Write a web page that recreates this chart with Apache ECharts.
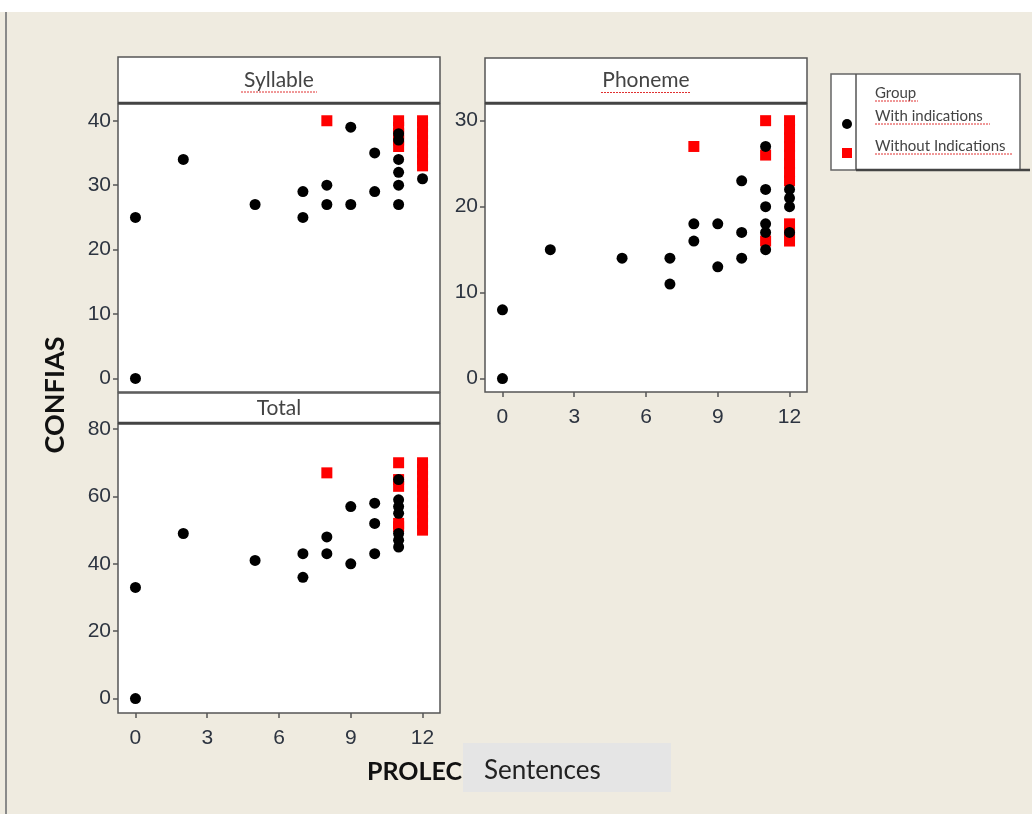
<!DOCTYPE html>
<html>
<head>
<meta charset="utf-8">
<script src="https://cdn.jsdelivr.net/npm/echarts@6/dist/echarts.min.js"></script>
<style>
html,body{margin:0;padding:0;background:#fff;}
#chart{width:1032px;height:814px;}
</style>
</head>
<body>
<div id="chart"></div>
<script>
// ---- data ----
const xTicks = [0, 3, 6, 9, 12];
const syllableTicks = [0, 10, 20, 30, 40];
const phonemeTicks = [0, 10, 20, 30];
const totalTicks = [0, 20, 40, 60, 80];

const panelTitles = ['Syllable', 'Phoneme', 'Total'];
const groupNames = ['With indications', 'Without Indications'];
const legendTitle = 'Group';
const yTitle = 'CONFIAS';
const xTitleA = 'PROLEC';
const xTitleB = 'Sentences';

const syllableWith = [[0,25],[0,0],[2,34],[5,27],[7,29],[7,25],[8,30],[8,27],[9,39],[9,27],[10,35],[10,29],
  [11,38],[11,37],[11,34],[11,32],[11,30],[11,27],[12,31]];
const syllableWithout = [[8,40],[11,40],[11,39],[11,38],[11,37],[11,36],
  [12,40],[12,39],[12,38],[12,37],[12,36],[12,35],[12,34],[12,33]];

const phonemeWith = [[0,8],[0,0],[2,15],[5,14],[7,14],[7,11],[8,18],[8,16],[9,18],[9,13],[10,23],[10,17],[10,14],
  [11,27],[11,22],[11,20],[11,18],[11,17],[11,15],[12,22],[12,21],[12,20],[12,17]];
const phonemeWithout = [[8,27],[11,30],[11,26],[11,16],
  [12,30],[12,29],[12,28],[12,27],[12,26],[12,25],[12,24],[12,23],[12,18],[12,17],[12,16]];

const totalWith = [[0,33],[0,0],[2,49],[5,41],[7,43],[7,36],[8,48],[8,43],[9,57],[9,40],[10,58],[10,52],[10,43],
  [11,65],[11,59],[11,57],[11,55],[11,49],[11,47],[11,45]];
const totalWithout = [[8,67],[11,70],[11,65],[11,63],[11,52],[11,51],
  [12,70],[12,68],[12,66],[12,64],[12,62],[12,60],[12,58],[12,56],[12,54],[12,52],[12,50]];

// ---- layout / style ----
const FONT = 'Lato';
const TICKFONT = '"Liberation Sans Narrow", "Liberation Sans", Lato';
const LABEL = '#2d3440';
const grids = [
  {left:118, top:104, width:322, height:288},
  {left:485, top:104, width:322, height:288},
  {left:118, top:424, width:322, height:289}
];
const yRanges = [[-2.1, 42.6], [-1.56, 31.94], [-4.27, 81.5]];
const yTickSets = [syllableTicks, phonemeTicks, totalTicks];
const showX = [false, true, true];

const chart = echarts.init(document.getElementById('chart'));

const xAxes = grids.map((g, i) => ({
  type: 'value', gridIndex: i, min: -0.73, max: 12.73,
  axisLine: {show: false, onZero: false}, splitLine: {show: false},
  axisTick: {show: showX[i], length: 5, lineStyle: {color: '#555', width: 1.5}, customValues: xTicks},
  axisLabel: {show: showX[i], customValues: xTicks, fontFamily: TICKFONT, fontSize: 21, color: LABEL, margin: 15}
}));
const yAxes = grids.map((g, i) => ({
  type: 'value', gridIndex: i, min: yRanges[i][0], max: yRanges[i][1],
  axisLine: {show: false, onZero: false}, splitLine: {show: false},
  axisTick: {show: true, length: 5, lineStyle: {color: '#555', width: 1.5}, customValues: yTickSets[i]},
  axisLabel: {customValues: yTickSets[i], fontFamily: TICKFONT, fontSize: 21, color: LABEL, margin: 7}
}));

const withSets = [syllableWith, phonemeWith, totalWith];
const withoutSets = [syllableWithout, phonemeWithout, totalWithout];
const series = [];
grids.forEach((g, i) => {
  series.push({
    name: groupNames[1], type: 'scatter', xAxisIndex: i, yAxisIndex: i,
    symbol: 'rect', symbolSize: 11, itemStyle: {color: '#ff0000', opacity: 1},
    data: withoutSets[i], z: 2, silent: true
  });
  series.push({
    name: groupNames[0], type: 'scatter', xAxisIndex: i, yAxisIndex: i,
    symbol: 'circle', symbolSize: 11, itemStyle: {color: '#000000', opacity: 1},
    data: withSets[i], z: 3, silent: true
  });
});

function header(x, y, w, h, text, underline) {
  const els = [
    {type: 'rect', shape: {x: x, y: y, width: w, height: h}, style: {fill: '#fff', stroke: '#555', lineWidth: 1.5}, z: 1},
    {type: 'line', shape: {x1: x, y1: y + h, x2: x + w, y2: y + h}, style: {stroke: '#444', lineWidth: 2.5}, z: 1},
    {type: 'text', x: x + w / 2, y: y + h / 2, style: {text: text, fontFamily: FONT, fontSize: 21, fill: '#444', align: 'center', verticalAlign: 'middle'}, z: 2}
  ];
  if (underline) {
    els.push({type: 'line', shape: {x1: x + w / 2 - underline, y1: y + h / 2 + 12, x2: x + w / 2 + underline, y2: y + h / 2 + 12},
      style: {stroke: '#e03030', lineWidth: 1, lineDash: [2, 1]}, z: 2});
  }
  return els;
}

const graphics = [].concat(
  [
    {type: 'rect', shape: {x: 0, y: 0, width: 1032, height: 12}, style: {fill: '#ffffff'}, z: 0},
    {type: 'line', shape: {x1: 6, y1: 12, x2: 6, y2: 814}, style: {stroke: '#8a8a8a', lineWidth: 2}, z: 1}
  ],
  header(118, 57, 322, 46, panelTitles[0], 38),
  header(485, 58, 322, 45, panelTitles[1], 45),
  header(118, 393, 322, 30, panelTitles[2], 0),
  [
    {type: 'text', x: 55, y: 395, rotation: Math.PI / 2, style: {text: yTitle, fontFamily: FONT, fontWeight: 'bold', fontSize: 27, fill: '#111', align: 'center', verticalAlign: 'middle'}, z: 2},
    {type: 'text', x: 462, y: 772, style: {text: xTitleA, fontFamily: FONT, fontWeight: 'bold', fontSize: 25, fill: '#111', align: 'right', verticalAlign: 'middle'}, z: 2},
    {type: 'rect', shape: {x: 463, y: 743, width: 208, height: 49}, style: {fill: '#e5e5e5'}, z: 1},
    {type: 'text', x: 484, y: 771, style: {text: xTitleB, fontFamily: FONT, fontSize: 26, fill: '#222', align: 'left', verticalAlign: 'middle'}, z: 2},
    // legend frame
    {type: 'rect', shape: {x: 831, y: 74, width: 189, height: 96}, style: {fill: '#fff', stroke: '#666', lineWidth: 1.5}, z: 1},
    {type: 'line', shape: {x1: 856, y1: 74, x2: 856, y2: 170}, style: {stroke: '#555', lineWidth: 1.5}, z: 1},
    {type: 'line', shape: {x1: 856, y1: 170, x2: 1030, y2: 170}, style: {stroke: '#444', lineWidth: 2.5}, z: 1},
    {type: 'circle', shape: {cx: 847, cy: 124, r: 5}, style: {fill: '#000'}, z: 2},
    {type: 'rect', shape: {x: 842, y: 148, width: 10, height: 10}, style: {fill: '#ff0000'}, z: 2},
    {type: 'text', x: 875, y: 93, style: {text: legendTitle, fontFamily: FONT, fontSize: 15, fill: '#444', align: 'left', verticalAlign: 'middle'}, z: 2},
    {type: 'text', x: 875, y: 116, style: {text: groupNames[0], fontFamily: FONT, fontSize: 15, fill: '#444', align: 'left', verticalAlign: 'middle'}, z: 2},
    {type: 'text', x: 875, y: 146, style: {text: groupNames[1], fontFamily: FONT, fontSize: 15, fill: '#444', align: 'left', verticalAlign: 'middle'}, z: 2},
    {type: 'line', shape: {x1: 875, y1: 101, x2: 918, y2: 101}, style: {stroke: '#e03030', lineWidth: 1, lineDash: [2, 1]}, z: 2},
    {type: 'line', shape: {x1: 875, y1: 124, x2: 990, y2: 124}, style: {stroke: '#e03030', lineWidth: 1, lineDash: [2, 1]}, z: 2},
    {type: 'line', shape: {x1: 875, y1: 154, x2: 1012, y2: 154}, style: {stroke: '#e03030', lineWidth: 1, lineDash: [2, 1]}, z: 2}
  ]
);

chart.setOption({
  backgroundColor: '#efebe0',
  animation: false,
  grid: grids.map(g => Object.assign({show: true, backgroundColor: '#ffffff', borderColor: '#555', borderWidth: 1.5, containLabel: false}, g)),
  xAxis: xAxes,
  yAxis: yAxes,
  graphic: {elements: graphics},
  series: series
});
</script>
</body>
</html>
